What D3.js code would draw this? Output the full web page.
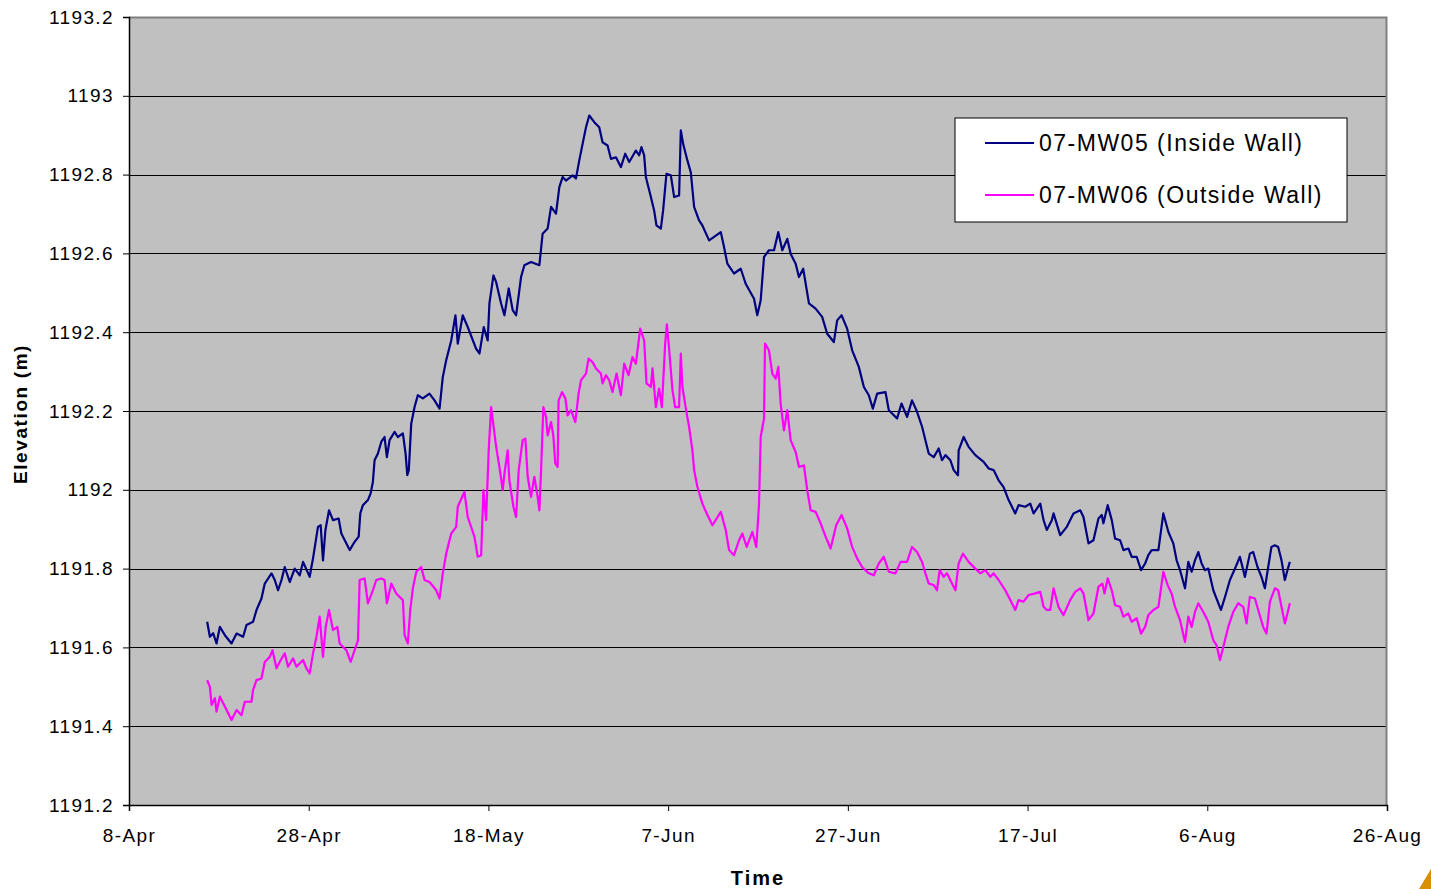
<!DOCTYPE html>
<html>
<head>
<meta charset="utf-8">
<script src="https://cdn.jsdelivr.net/npm/d3@7"></script>
<style>
  body { margin: 0; background: #fff; }
  svg { display: block; font-family: Arial, "Liberation Sans", sans-serif; }
</style>
</head>
<body>
<svg id="chart" width="1431" height="889"></svg>
<script>
// days after 8-Apr and elevation (m)
const mw05Days = [8.70, 9.00, 9.37, 9.74, 10.11, 10.67, 11.41, 11.97, 12.70, 13.08, 13.81, 14.19, 14.74, 15.11, 15.86, 16.22, 16.59, 16.97, 17.33, 17.89, 18.44, 19.00, 19.37, 20.11, 20.30, 20.48, 21.03, 21.33, 21.59, 21.86, 22.26, 22.70, 23.33, 23.63, 24.56, 25.11, 25.56, 25.74, 26.03, 26.59, 26.89, 27.14, 27.33, 27.70, 28.08, 28.44, 28.70, 29.00, 29.56, 29.92, 30.48, 30.78, 30.97, 31.14, 31.41, 31.78, 32.14, 32.70, 33.44, 34.00, 34.56, 34.92, 35.30, 35.86, 36.33, 36.59, 37.14, 37.70, 38.63, 39.00, 39.48, 39.92, 40.11, 40.56, 40.86, 41.41, 41.78, 42.26, 42.70, 43.08, 43.63, 44.00, 44.74, 45.67, 46.03, 46.59, 46.97, 47.52, 47.89, 48.26, 48.63, 49.37, 49.74, 50.11, 50.48, 50.86, 51.22, 51.78, 52.33, 52.70, 53.26, 53.63, 54.19, 54.74, 55.22, 55.67, 56.41, 56.78, 57.03, 57.33, 57.52, 58.08, 58.44, 58.70, 59.19, 59.44, 59.81, 60.30, 60.67, 61.22, 61.41, 61.67, 62.14, 62.52, 62.89, 63.44, 63.81, 64.56, 65.86, 66.22, 66.59, 67.33, 68.08, 68.63, 69.56, 69.92, 70.30, 70.67, 71.22, 71.78, 72.26, 72.70, 73.26, 73.63, 74.19, 74.56, 75.03, 75.67, 76.41, 77.14, 77.70, 78.44, 78.81, 79.30, 79.92, 80.48, 81.22, 81.78, 82.33, 82.78, 83.26, 84.19, 84.56, 85.48, 85.97, 86.59, 87.14, 87.70, 88.26, 88.63, 89.00, 89.56, 90.11, 90.48, 90.86, 91.41, 91.78, 92.26, 92.33, 92.89, 93.44, 94.19, 95.11, 95.67, 96.22, 96.78, 97.33, 97.89, 98.63, 99.00, 99.74, 100.30, 100.67, 101.41, 101.78, 102.14, 102.70, 102.89, 103.63, 104.37, 105.11, 105.86, 106.22, 106.78, 107.33, 107.89, 108.26, 108.44, 108.92, 109.37, 109.74, 110.30, 110.67, 111.22, 111.59, 112.14, 112.63, 113.08, 113.44, 113.81, 114.56, 115.11, 115.67, 116.22, 116.59, 116.97, 117.52, 117.89, 118.26, 118.63, 119.00, 119.37, 119.74, 120.11, 120.67, 121.03, 121.52, 121.97, 122.52, 123.08, 123.63, 124.19, 124.74, 125.11, 125.59, 126.03, 126.41, 126.78, 127.14, 127.52, 127.89, 128.26, 128.63, 128.92, 129.19];
const mw05Elev = [1191.665, 1191.627, 1191.636, 1191.610, 1191.652, 1191.631, 1191.610, 1191.635, 1191.627, 1191.657, 1191.665, 1191.695, 1191.724, 1191.762, 1191.788, 1191.771, 1191.745, 1191.771, 1191.804, 1191.766, 1191.800, 1191.783, 1191.817, 1191.779, 1191.804, 1191.826, 1191.906, 1191.910, 1191.821, 1191.898, 1191.948, 1191.923, 1191.927, 1191.889, 1191.847, 1191.868, 1191.881, 1191.940, 1191.961, 1191.974, 1191.991, 1192.020, 1192.075, 1192.092, 1192.122, 1192.134, 1192.083, 1192.126, 1192.147, 1192.134, 1192.143, 1192.092, 1192.037, 1192.050, 1192.168, 1192.210, 1192.240, 1192.232, 1192.244, 1192.227, 1192.206, 1192.286, 1192.329, 1192.379, 1192.443, 1192.371, 1192.443, 1192.413, 1192.358, 1192.346, 1192.413, 1192.379, 1192.473, 1192.544, 1192.527, 1192.473, 1192.443, 1192.511, 1192.456, 1192.443, 1192.540, 1192.570, 1192.578, 1192.570, 1192.650, 1192.663, 1192.718, 1192.701, 1192.768, 1192.794, 1192.785, 1192.798, 1192.790, 1192.836, 1192.878, 1192.920, 1192.950, 1192.933, 1192.920, 1192.882, 1192.874, 1192.840, 1192.844, 1192.819, 1192.853, 1192.832, 1192.861, 1192.849, 1192.870, 1192.849, 1192.794, 1192.743, 1192.709, 1192.671, 1192.663, 1192.709, 1192.802, 1192.798, 1192.743, 1192.747, 1192.912, 1192.878, 1192.836, 1192.806, 1192.718, 1192.684, 1192.671, 1192.633, 1192.654, 1192.616, 1192.574, 1192.549, 1192.561, 1192.523, 1192.485, 1192.443, 1192.481, 1192.591, 1192.608, 1192.608, 1192.654, 1192.608, 1192.637, 1192.599, 1192.574, 1192.540, 1192.561, 1192.473, 1192.460, 1192.439, 1192.396, 1192.375, 1192.430, 1192.443, 1192.409, 1192.354, 1192.312, 1192.261, 1192.240, 1192.206, 1192.244, 1192.248, 1192.202, 1192.181, 1192.219, 1192.185, 1192.227, 1192.198, 1192.160, 1192.126, 1192.092, 1192.083, 1192.105, 1192.075, 1192.088, 1192.075, 1192.050, 1192.037, 1192.100, 1192.134, 1192.109, 1192.088, 1192.071, 1192.054, 1192.050, 1192.024, 1192.007, 1191.974, 1191.940, 1191.961, 1191.957, 1191.965, 1191.940, 1191.965, 1191.923, 1191.898, 1191.923, 1191.940, 1191.885, 1191.906, 1191.940, 1191.948, 1191.931, 1191.864, 1191.872, 1191.927, 1191.936, 1191.915, 1191.961, 1191.923, 1191.876, 1191.872, 1191.847, 1191.851, 1191.830, 1191.830, 1191.796, 1191.813, 1191.834, 1191.847, 1191.847, 1191.940, 1191.893, 1191.864, 1191.821, 1191.796, 1191.750, 1191.817, 1191.792, 1191.821, 1191.842, 1191.813, 1191.796, 1191.800, 1191.745, 1191.724, 1191.695, 1191.728, 1191.771, 1191.800, 1191.830, 1191.779, 1191.838, 1191.842, 1191.804, 1191.779, 1191.750, 1191.804, 1191.855, 1191.859, 1191.855, 1191.821, 1191.771, 1191.796, 1191.817];

const mw06Days = [8.70, 9.00, 9.19, 9.56, 9.74, 10.11, 10.48, 10.86, 11.41, 11.97, 12.52, 12.89, 13.63, 13.81, 14.19, 14.74, 15.11, 15.67, 15.97, 16.41, 16.89, 17.33, 17.70, 18.26, 18.63, 19.37, 19.74, 20.11, 20.48, 20.86, 21.22, 21.59, 21.89, 22.26, 22.70, 23.19, 23.44, 24.19, 24.67, 25.11, 25.48, 25.67, 26.22, 26.59, 27.14, 27.52, 28.08, 28.44, 28.70, 29.19, 29.74, 30.48, 30.67, 31.03, 31.30, 31.59, 31.97, 32.52, 32.89, 33.44, 34.19, 34.56, 34.92, 35.30, 35.86, 36.41, 36.59, 37.33, 37.70, 38.44, 38.81, 39.19, 39.44, 39.74, 40.03, 40.30, 40.86, 41.22, 41.59, 41.78, 42.14, 42.33, 42.78, 43.08, 43.37, 43.81, 44.11, 44.37, 44.74, 45.11, 45.48, 45.67, 45.86, 46.11, 46.41, 46.59, 46.97, 47.22, 47.44, 47.70, 47.81, 48.19, 48.56, 48.81, 49.19, 49.67, 50.03, 50.30, 50.86, 51.14, 51.59, 51.97, 52.52, 52.70, 53.08, 53.44, 53.81, 54.26, 54.74, 55.11, 55.59, 56.03, 56.41, 56.89, 57.33, 57.59, 58.08, 58.26, 58.63, 59.00, 59.30, 59.44, 59.67, 59.86, 60.11, 60.48, 60.78, 61.22, 61.41, 61.59, 61.97, 62.33, 62.70, 62.89, 63.26, 63.81, 64.37, 64.93, 65.86, 66.41, 66.78, 67.33, 67.89, 68.26, 68.74, 69.37, 69.81, 70.11, 70.30, 70.67, 70.78, 71.22, 71.59, 71.97, 72.26, 72.52, 72.89, 73.26, 73.63, 74.19, 74.56, 75.11, 75.48, 75.86, 76.41, 76.97, 77.52, 78.08, 78.70, 79.30, 79.92, 80.48, 81.03, 81.59, 82.33, 82.89, 83.44, 84.00, 84.56, 85.30, 85.86, 86.59, 87.14, 87.70, 88.26, 88.63, 89.00, 89.56, 89.92, 90.22, 90.67, 91.03, 91.59, 91.97, 92.33, 92.81, 93.44, 94.19, 94.74, 95.30, 95.86, 96.22, 96.78, 97.52, 98.08, 98.63, 99.00, 99.56, 100.11, 100.86, 101.41, 101.78, 102.14, 102.52, 102.89, 103.44, 104.00, 104.74, 105.30, 105.86, 106.22, 106.78, 107.33, 107.89, 108.33, 108.56, 108.92, 109.37, 109.74, 110.30, 110.67, 111.22, 111.59, 112.14, 112.63, 113.08, 113.44, 114.00, 114.56, 115.11, 115.59, 116.03, 116.41, 116.97, 117.52, 117.89, 118.26, 118.63, 119.00, 119.56, 120.11, 120.67, 121.03, 121.41, 121.78, 122.33, 122.89, 123.44, 124.00, 124.37, 124.74, 125.30, 125.67, 126.22, 126.59, 126.97, 127.52, 127.89, 128.26, 128.63, 128.92, 129.19];
const mw06Elev = [1191.517, 1191.500, 1191.454, 1191.471, 1191.437, 1191.475, 1191.458, 1191.441, 1191.416, 1191.441, 1191.428, 1191.462, 1191.462, 1191.492, 1191.517, 1191.521, 1191.563, 1191.576, 1191.593, 1191.547, 1191.568, 1191.585, 1191.551, 1191.572, 1191.551, 1191.568, 1191.547, 1191.534, 1191.585, 1191.627, 1191.678, 1191.576, 1191.652, 1191.695, 1191.644, 1191.652, 1191.610, 1191.593, 1191.563, 1191.593, 1191.618, 1191.771, 1191.775, 1191.712, 1191.745, 1191.771, 1191.775, 1191.771, 1191.712, 1191.762, 1191.737, 1191.720, 1191.631, 1191.610, 1191.695, 1191.750, 1191.792, 1191.804, 1191.771, 1191.766, 1191.745, 1191.724, 1191.788, 1191.838, 1191.889, 1191.906, 1191.957, 1191.995, 1191.931, 1191.881, 1191.830, 1191.834, 1191.999, 1191.923, 1192.100, 1192.210, 1192.109, 1192.058, 1191.999, 1192.041, 1192.100, 1192.024, 1191.957, 1191.931, 1192.050, 1192.126, 1192.130, 1192.033, 1191.982, 1192.033, 1191.982, 1191.948, 1192.050, 1192.210, 1192.185, 1192.138, 1192.172, 1192.138, 1192.067, 1192.058, 1192.227, 1192.248, 1192.232, 1192.189, 1192.202, 1192.172, 1192.244, 1192.278, 1192.295, 1192.333, 1192.324, 1192.308, 1192.295, 1192.270, 1192.291, 1192.278, 1192.248, 1192.295, 1192.240, 1192.320, 1192.291, 1192.337, 1192.320, 1192.409, 1192.379, 1192.270, 1192.261, 1192.308, 1192.210, 1192.257, 1192.210, 1192.270, 1192.371, 1192.420, 1192.358, 1192.253, 1192.210, 1192.210, 1192.346, 1192.261, 1192.206, 1192.160, 1192.100, 1192.050, 1192.007, 1191.965, 1191.936, 1191.910, 1191.944, 1191.898, 1191.847, 1191.834, 1191.872, 1191.889, 1191.855, 1191.893, 1191.855, 1191.961, 1192.134, 1192.181, 1192.371, 1192.354, 1192.295, 1192.282, 1192.312, 1192.219, 1192.151, 1192.202, 1192.126, 1192.096, 1192.058, 1192.062, 1191.999, 1191.948, 1191.944, 1191.915, 1191.881, 1191.851, 1191.910, 1191.936, 1191.902, 1191.855, 1191.826, 1191.804, 1191.788, 1191.783, 1191.813, 1191.830, 1191.792, 1191.788, 1191.817, 1191.817, 1191.855, 1191.842, 1191.817, 1191.788, 1191.762, 1191.758, 1191.745, 1191.796, 1191.779, 1191.788, 1191.762, 1191.745, 1191.813, 1191.838, 1191.817, 1191.800, 1191.788, 1191.796, 1191.779, 1191.788, 1191.771, 1191.745, 1191.720, 1191.695, 1191.720, 1191.716, 1191.733, 1191.737, 1191.741, 1191.703, 1191.695, 1191.695, 1191.750, 1191.703, 1191.682, 1191.720, 1191.741, 1191.750, 1191.737, 1191.669, 1191.686, 1191.754, 1191.762, 1191.737, 1191.775, 1191.745, 1191.707, 1191.703, 1191.678, 1191.686, 1191.665, 1191.674, 1191.635, 1191.652, 1191.682, 1191.695, 1191.703, 1191.792, 1191.758, 1191.737, 1191.703, 1191.669, 1191.614, 1191.678, 1191.652, 1191.690, 1191.712, 1191.690, 1191.665, 1191.618, 1191.606, 1191.568, 1191.601, 1191.652, 1191.690, 1191.712, 1191.703, 1191.661, 1191.728, 1191.724, 1191.695, 1191.652, 1191.635, 1191.716, 1191.750, 1191.745, 1191.703, 1191.661, 1191.686, 1191.712];

const xTickLabels = ["8-Apr", "28-Apr", "18-May", "7-Jun", "27-Jun", "17-Jul", "6-Aug", "26-Aug"];
const yTicks = [1191.2, 1191.4, 1191.6, 1191.8, 1192, 1192.2, 1192.4, 1192.6, 1192.8, 1193, 1193.2];
const seriesNames = ["07-MW05 (Inside Wall)", "07-MW06 (Outside Wall)"];
const seriesColors = ["#000080", "#FF00FF"];

const svg = d3.select("#chart");
const margin = { top: 17, right: 44, bottom: 84, left: 129 };
const width = +svg.attr("width") - margin.left - margin.right;
const height = +svg.attr("height") - margin.top - margin.bottom;
const g = svg.append("g").attr("transform", `translate(${margin.left},${margin.top})`);

const startDay = Date.UTC(2008, 3, 8);
const toDate = d => new Date(startDay + d * 86400000);

const x = d3.scaleUtc()
    .domain([toDate(0), toDate(140)])
    .range([0, width]);
const y = d3.scaleLinear()
    .domain([1191.2, 1193.2])
    .range([height, 0]);

// plot background
g.append("rect")
    .attr("width", width)
    .attr("height", height)
    .attr("fill", "#C0C0C0");

// gridlines
g.append("g")
    .selectAll("line")
    .data(yTicks.slice(1, -1))
    .join("line")
    .attr("x1", 0)
    .attr("x2", width)
    .attr("y1", d => Math.round(y(d)) + 0.5)
    .attr("y2", d => Math.round(y(d)) + 0.5)
    .attr("stroke", "#000")
    .attr("stroke-width", 1);

// top/right frame
g.append("path")
    .attr("d", `M0,0.5H${width - 0.5}V${height}`)
    .attr("fill", "none")
    .attr("stroke", "#808080")
    .attr("stroke-width", 2);

// lines
const line = d3.line()
    .x(d => x(toDate(d[0])))
    .y(d => y(d[1]));

const series = [
    d3.zip(mw05Days, mw05Elev),
    d3.zip(mw06Days, mw06Elev)
];

g.selectAll(".series")
    .data(series)
    .join("path")
    .attr("class", "series")
    .attr("d", line)
    .attr("fill", "none")
    .attr("stroke", (d, i) => seriesColors[i])
    .attr("stroke-width", 2.2)
    .attr("stroke-linejoin", "round");

// axes
const xAxis = g.append("g")
    .attr("transform", `translate(0,${height})`)
    .call(d3.axisBottom(x)
        .tickValues(xTickLabels.map((t, i) => toDate(i * 20)))
        .tickFormat((d, i) => xTickLabels[i])
        .tickSize(6)
        .tickPadding(18));

const yAxis = g.append("g")
    .call(d3.axisLeft(y)
        .tickValues(yTicks)
        .tickFormat(d => d3.format("")(+d.toFixed(1)))
        .tickSize(6)
        .tickPadding(9));

[xAxis, yAxis].forEach(a => {
    a.select(".domain").attr("stroke", "#000").attr("stroke-width", 1.5);
    a.selectAll(".tick line").attr("stroke", "#000");
    a.selectAll("text")
        .attr("fill", "#000")
        .style("font-size", "19px")
        .style("letter-spacing", "1.4px")
        .style("font-family", "Arial, 'Liberation Sans', sans-serif");
});

// axis titles
svg.append("text")
    .attr("x", margin.left + width / 2)
    .attr("y", 885)
    .attr("text-anchor", "middle")
    .style("font-size", "20px")
    .style("letter-spacing", "2px")
    .style("font-weight", "bold")
    .text("Time");

svg.append("text")
    .attr("transform", `translate(27,${margin.top + height / 2 + 3}) rotate(-90)`)
    .attr("text-anchor", "middle")
    .style("font-size", "19px")
    .style("letter-spacing", "1.6px")
    .style("font-weight", "bold")
    .text("Elevation (m)");

// legend
const legend = svg.append("g").attr("transform", "translate(955,118)");
legend.append("rect")
    .attr("width", 392)
    .attr("height", 104)
    .attr("fill", "#fff")
    .attr("stroke", "#000")
    .attr("stroke-width", 1);

legend.selectAll(".legend-item")
    .data(seriesNames)
    .join("g")
    .attr("class", "legend-item")
    .attr("transform", (d, i) => `translate(0,${25 + i * 52})`)
    .call(item => {
        item.append("line")
            .attr("x1", 30)
            .attr("x2", 79)
            .attr("stroke", (d, i) => seriesColors[i])
            .attr("stroke-width", 2);
        item.append("text")
            .attr("x", 84)
            .attr("y", 8)
            .style("font-size", "23px")
            .style("letter-spacing", "1.5px")
            .attr("fill", "#000")
            .text(d => d);
    });

// orange corner mark
svg.append("path")
    .attr("d", "M1419,889L1431,869V889Z")
    .attr("fill", "#D98E04");
</script>
</body>
</html>
